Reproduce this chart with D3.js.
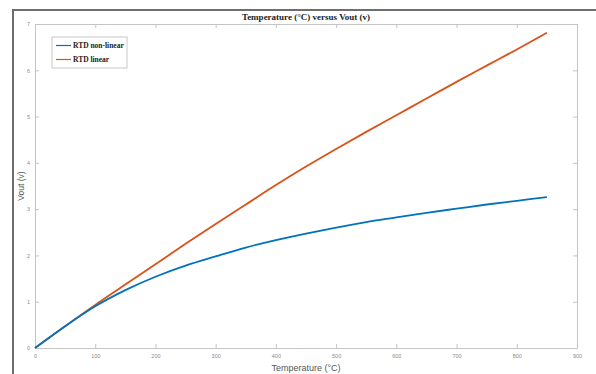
<!DOCTYPE html>
<html><head><meta charset="utf-8">
<script src="https://cdn.jsdelivr.net/npm/d3@7"></script>
<style>body{margin:0;background:#fff}svg{display:block}</style>
</head><body><svg id="c" width="596" height="374"></svg>
<script>
const temps = [0, 50, 100, 150, 200, 250, 300, 350, 400, 450, 500, 550, 600, 650, 700, 750, 800, 850];
const nonLinear = [0, 0.47, 0.90, 1.25, 1.54, 1.78, 1.98, 2.17, 2.33, 2.47, 2.60, 2.72, 2.82, 2.92, 3.01, 3.10, 3.18, 3.26];
const linear = [0, 0.47, 0.93, 1.37, 1.81, 2.25, 2.68, 3.10, 3.52, 3.92, 4.30, 4.67, 5.03, 5.39, 5.75, 6.10, 6.45, 6.81];
const xTicks = [0, 100, 200, 300, 400, 500, 600, 700, 800, 900];
const yTicks = [0, 1, 2, 3, 4, 5, 6, 7];
const seriesNames = ["RTD non-linear", "RTD linear"];
const seriesColors = ["#0072BD", "#D95319"];

const svg = d3.select("#c");
const L = 35, R = 577, T = 24, B = 348;
const x = d3.scaleLinear().domain([0, 900]).range([L, R]);
const y = d3.scaleLinear().domain([0, 7]).range([B, T]);

// figure frame
svg.append("path").attr("d", "M13,374 L13,10 L596,10").attr("fill", "none").attr("stroke", "#6e6e6e").attr("stroke-width", 2);

const axCol = "#c4c4c4";
const tickLen = 4;
const fmt = d3.format("d");
const gx = svg.append("g").attr("transform", `translate(0,${B})`)
  .call(d3.axisBottom(x).tickValues(xTicks).tickSizeInner(-tickLen).tickSizeOuter(0).tickPadding(6).tickFormat(fmt));
const gxt = svg.append("g").attr("transform", `translate(0,${T})`)
  .call(d3.axisTop(x).tickValues(xTicks).tickSizeInner(-tickLen).tickSizeOuter(0).tickFormat(""));
const gy = svg.append("g").attr("transform", `translate(${L},0)`)
  .call(d3.axisLeft(y).tickValues(yTicks).tickSizeInner(-tickLen).tickSizeOuter(0).tickPadding(5).tickFormat(fmt));
const gyr = svg.append("g").attr("transform", `translate(${R},0)`)
  .call(d3.axisRight(y).tickValues(yTicks).tickSizeInner(-tickLen).tickSizeOuter(0).tickFormat(""));
[gx, gxt, gy, gyr].forEach(g => {
  g.selectAll("path,line").attr("stroke", axCol);
  g.selectAll("text").attr("fill", "#8a8a8a").style("font-family", "Liberation Sans, Arial, sans-serif").style("font-size", "5.5px");
});

// lines
const line = d3.line().x((d, i) => x(temps[i])).y(d => y(d)).curve(d3.curveMonotoneX);
[linear, nonLinear].forEach((s, k) => {
  svg.append("path").datum(s).attr("d", line).attr("fill", "none")
    .attr("stroke", k === 0 ? seriesColors[1] : seriesColors[0]).attr("stroke-width", 1.8);
});

// title
svg.append("text").attr("x", (L + R) / 2).attr("y", 20).attr("text-anchor", "middle")
  .style("font-family", "Liberation Serif, Times New Roman, serif").style("font-weight", "bold").style("font-size", "9px")
  .attr("fill", "#222").text("Temperature (°C)  versus Vout (v)");
svg.append("text").attr("x", (L + R) / 2).attr("y", 371).attr("text-anchor", "middle")
  .style("font-family", "Liberation Sans, Arial, sans-serif").style("font-size", "9px").attr("fill", "#555").text("Temperature (°C)");
svg.append("text").attr("transform", `translate(24,${(T + B) / 2}) rotate(-90)`).attr("text-anchor", "middle")
  .style("font-family", "Liberation Sans, Arial, sans-serif").style("font-size", "8.5px").attr("fill", "#555").text("Vout (v)");

// legend
const lg = svg.append("g");
lg.append("rect").attr("x", 52).attr("y", 37).attr("width", 75).attr("height", 31)
  .attr("fill", "#fff").attr("stroke", "#c8c8c8").attr("stroke-width", 1);
seriesNames.forEach((n, i) => {
  const yy = 45.5 + i * 14;
  lg.append("line").attr("x1", 56).attr("x2", 71).attr("y1", yy).attr("y2", yy)
    .attr("stroke", seriesColors[i]).attr("stroke-width", 1.2);
  lg.append("text").attr("x", 73).attr("y", yy + 2.8)
    .style("font-family", "Liberation Serif, Times New Roman, serif").style("font-weight", "bold").style("font-size", "7.5px")
    .attr("fill", "#222").text(n);
});
</script></body></html>
